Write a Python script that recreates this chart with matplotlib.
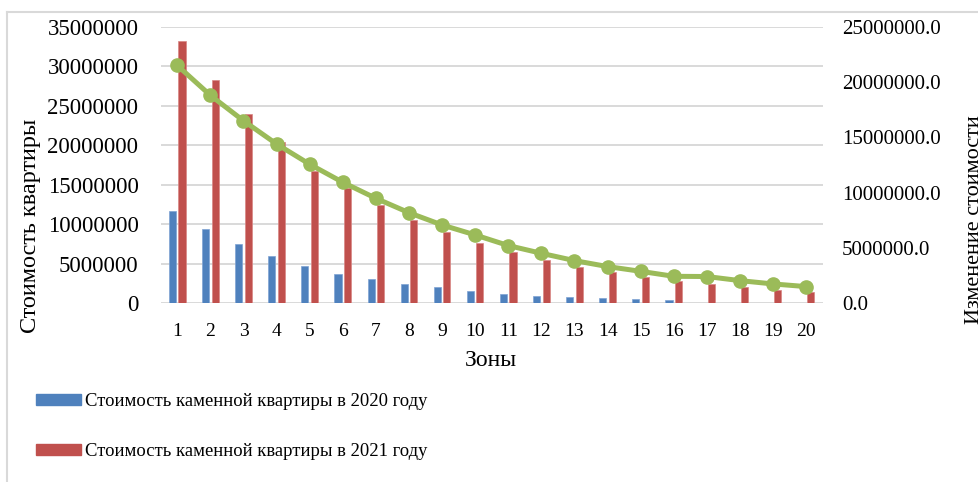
import numpy as np
import matplotlib.pyplot as plt
from matplotlib.patches import Rectangle
from matplotlib.lines import Line2D
from matplotlib.ticker import FormatStrFormatter

plt.rcParams['font.family'] = ['Liberation Serif', 'DejaVu Serif']

# ── data ──────────────────────────────────────────────────────────────────────
zones = list(range(1, 21))
cost_2020 = [11.7, 9.37, 7.47, 5.99, 4.76, 3.71, 3.08, 2.44, 2.03, 1.52,
             1.23, 0.94, 0.76, 0.63, 0.50, 0.42, 0.0, 0.0, 0.0, 0.0]
cost_2021 = [33.2, 28.2, 23.96, 20.4, 16.7, 14.56, 12.5, 10.6, 9.07, 7.68,
             6.46, 5.49, 4.65, 3.93, 3.38, 2.84, 2.41, 2.03, 1.70, 1.44]
change = [21.5, 18.8, 16.5, 14.4, 12.57, 10.94, 9.49, 8.19, 7.08, 6.18,
          5.22, 4.52, 3.86, 3.32, 2.89, 2.44, 2.42, 2.05, 1.75, 1.51]

cost_2020 = np.array(cost_2020) * 1e6
cost_2021 = np.array(cost_2021) * 1e6
change = np.array(change) * 1e6

BLUE, RED, GREEN, GRID = '#4F81BD', '#C0504D', '#9BBB59', '#D9D9D9'
W, H = 979, 482

fig = plt.figure(figsize=(W / 100, H / 100), dpi=100)
ax = fig.add_axes([160.7 / W, 1 - 303.3 / H, 662 / W, 276.6 / H])

x = np.arange(len(zones))
bw = 0.215
ax.bar(x - 0.143, cost_2020, bw, color=BLUE, edgecolor='#7FA3D4', lw=0.5, zorder=2)
ax.bar(x + 0.143, cost_2021, bw, color=RED, edgecolor='#D98785', lw=0.5, zorder=2)

ax.set_xlim(-0.5, len(zones) - 0.5)
ax.set_ylim(0, 35e6)
ax.set_yticks(np.arange(0, 35e6 + 1, 5e6))
ax.yaxis.set_major_formatter(FormatStrFormatter('%d'))
ax.set_xticks(x)
ax.set_xticklabels([str(z) for z in zones])
ax.grid(axis='y', color=GRID, lw=1.4, zorder=0)
ax.set_axisbelow(True)
for s in ax.spines.values():
    s.set_visible(False)
ax.tick_params(axis='y', length=0, pad=16, labelsize=16.5)
ax.tick_params(axis='x', length=0, pad=14, labelsize=14)

ax2 = ax.twinx()
ax2.plot(x, change, color=GREEN, lw=3.6, marker='o', ms=9.5, zorder=3)
ax2.set_ylim(0, 25e6)
ax2.set_yticks(np.arange(0, 25e6 + 1, 5e6))
ax2.yaxis.set_major_formatter(FormatStrFormatter('%.1f'))
for s in ax2.spines.values():
    s.set_visible(False)
ax2.tick_params(axis='y', length=0, pad=14, labelsize=15)

# axis titles
fig.text(491 / W, 1 - 360.5 / H, 'Зоны', ha='center', va='center', fontsize=17)
fig.text(31 / W, 1 - 226 / H, 'Стоимость квартиры', rotation=90,
         ha='center', va='center', fontsize=17.5)
fig.text(975 / W, 1 - 220 / H, 'Изменение стоимости', rotation=90,
         ha='center', va='center', fontsize=16)

# legend entries
legend_items = [(BLUE, 'Стоимость каменной квартиры в 2020 году', 399),
                (RED, 'Стоимость каменной квартиры в 2021 году', 449.5)]
for color, label, yc in legend_items:
    fig.add_artist(Rectangle((35.7 / W, 1 - (yc + 5.5) / H), 45 / W, 11 / H,
                             transform=fig.transFigure, color=color))
    fig.text(85 / W, 1 - (yc + 2.5) / H, label, ha='left', va='center', fontsize=13.4)

# chart frame
fig.add_artist(Line2D([7 / W, 7 / W], [0, 1 - 12 / H], transform=fig.transFigure,
                      color=GRID, lw=1.5))
fig.add_artist(Line2D([7 / W, 1], [1 - 12 / H, 1 - 12 / H], transform=fig.transFigure,
                      color=GRID, lw=1.5))

fig.savefig('out.png', dpi=100)
